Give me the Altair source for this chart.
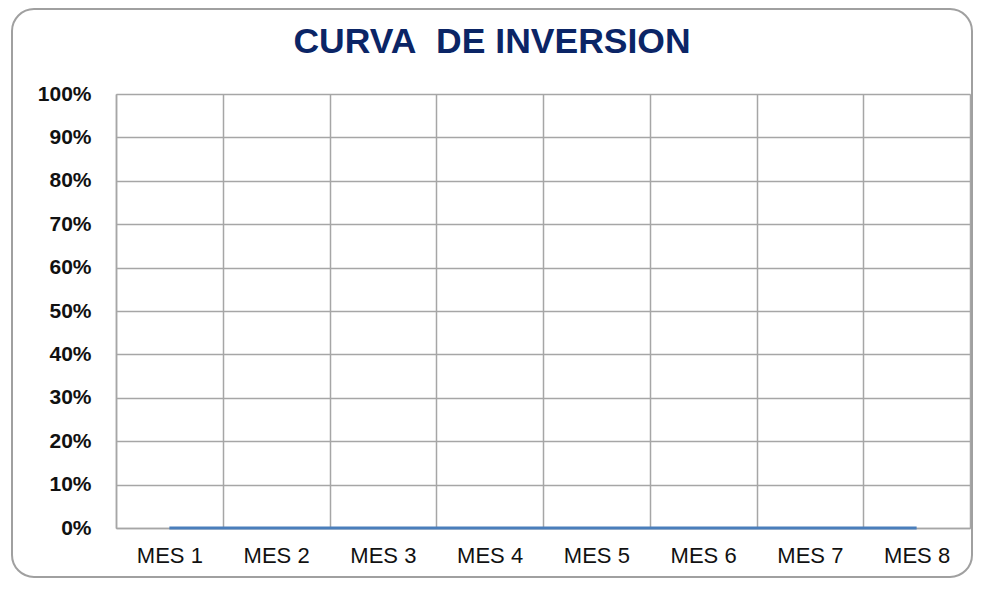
import altair as alt
import pandas as pd

meses = ["MES 1", "MES 2", "MES 3", "MES 4", "MES 5", "MES 6", "MES 7", "MES 8"]
inversion = [0, 0, 0, 0, 0, 0, 0, 0]
y_ticks = [0, 0.1, 0.2, 0.3, 0.4, 0.5, 0.6, 0.7, 0.8, 0.9, 1.0]

df = pd.DataFrame({"mes": meses, "valor": inversion})

FONT = "Liberation Sans"
GRID = "#a6a6a6"

line = alt.Chart(df).mark_line(color="#4a7ebb", strokeWidth=3).encode(
    x=alt.X(
        "mes:N",
        sort=meses,
        bandPosition=0.5,
        scale=alt.Scale(type="band", paddingInner=0, paddingOuter=0),
        axis=alt.Axis(
            title=None,
            labelAngle=0,
            tickBand="extent",
            grid=True,
            gridColor=GRID,
            gridWidth=1.5,
            ticks=False,
            domainColor=GRID,
            domainWidth=1.5,
            labelFont=FONT,
            labelFontSize=22,
            labelColor="#111111",
            labelPadding=17,
        ),
    ),
    y=alt.Y(
        "valor:Q",
        scale=alt.Scale(domain=[0, 1]),
        axis=alt.Axis(
            title=None,
            values=y_ticks,
            format=".0%",
            grid=True,
            gridColor=GRID,
            gridWidth=1.5,
            ticks=False,
            domainColor=GRID,
            domainWidth=1.5,
            labelFont=FONT,
            labelFontSize=21,
            labelFontWeight="bold",
            labelColor="#111111",
            labelPadding=25,
        ),
    ),
)

frame = alt.Chart(pd.DataFrame({"a": [0]})).mark_rect(
    fill=None, stroke="#a0a0a0", strokeWidth=2, cornerRadius=22
).encode(
    x=alt.value(-104), x2=alt.value(856), y=alt.value(-85), y2=alt.value(483)
)

chart = (
    alt.layer(frame, line)
    .properties(
        width=854,
        height=434,
        padding={"left": 108, "top": 86, "right": 3, "bottom": 52},
        autosize=alt.AutoSizeParams(type="none"),
        title=alt.TitleParams(
            "CURVA\u00a0 DE INVERSION",
            font=FONT,
            fontSize=35.5,
            fontWeight="bold",
            color="#0b2566",
            anchor="middle",
            baseline="alphabetic",
            dx=-51,
            offset=-80,
        ),
    )
    .configure_view(stroke=GRID, strokeWidth=1.5)
    .configure(background="white")
)

chart.save("out.html", embed_options={"renderer": "svg", "actions": False})
